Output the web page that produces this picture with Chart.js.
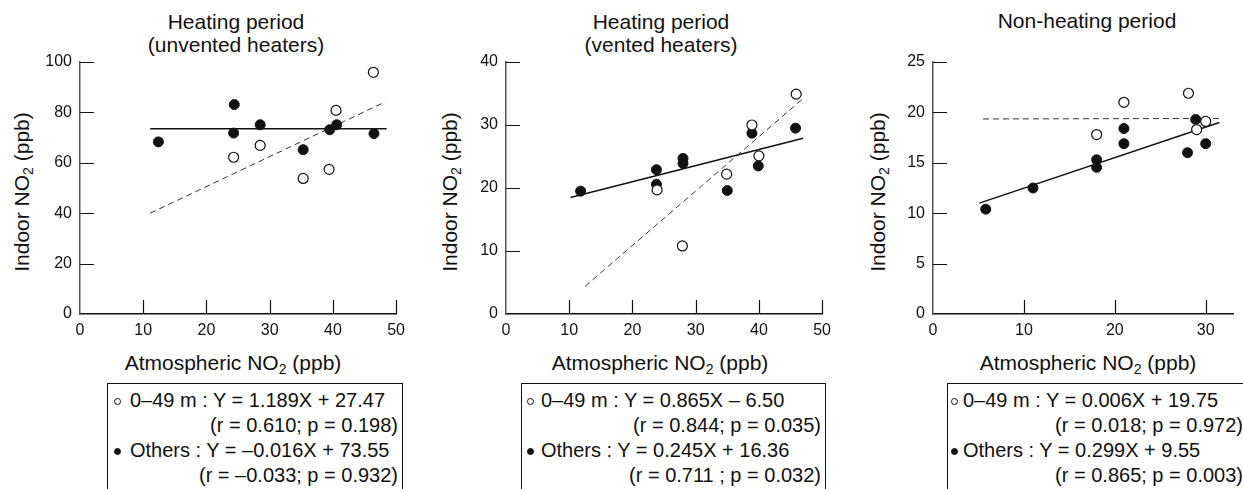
<!DOCTYPE html>
<html>
<head>
<meta charset="utf-8">
<script src="https://cdn.jsdelivr.net/npm/chart.js@4.4.1/dist/chart.umd.min.js"></script>
<style>
  body { margin: 0; width: 1243px; height: 489px; background: #fff; position: relative; overflow: hidden;
         font-family: "Liberation Sans", Arial, sans-serif; color: #111; }
  canvas { position: absolute; }
  .title { position: absolute; font-size: 21px; line-height: 23px; text-align: center; white-space: nowrap; transform: translateX(-50%); }
  .ytitle { position: absolute; font-size: 21px; line-height: 21px; white-space: nowrap; transform: translate(-50%, -50%) rotate(-90deg); }
  sub { font-size: 14px; line-height: 0; vertical-align: -4px; }
  .legend { position: absolute; top: 383px; height: 130px; border: 1px solid #111; box-sizing: border-box;
            font-size: 20px; line-height: 25px; white-space: nowrap; padding-top: 4px; }
  .legend .r { text-align: right; padding-right: 4px; }
  .dot { display: inline-block; width: 7px; height: 7px; border-radius: 50%; background: #111; border: 1px solid #111;
         box-sizing: border-box; vertical-align: 2px; }
  .dot.open { background: #fff; }
</style>
</head>
<body>
<div class="title" style="left:236px;top:10px">Heating period<br>(unvented heaters)</div>
<div class="title" style="left:661px;top:10px">Heating period<br>(vented heaters)</div>
<div class="title" style="left:1087px;top:9px">Non-heating period</div>

<div class="ytitle" style="left:21px;top:192px">Indoor NO<sub>2</sub> (ppb)</div>
<div class="ytitle" style="left:449px;top:192px">Indoor NO<sub>2</sub> (ppb)</div>
<div class="ytitle" style="left:877px;top:192px">Indoor NO<sub>2</sub> (ppb)</div>

<div class="title" style="left:233px;top:351px">Atmospheric NO<sub>2</sub> (ppb)</div>
<div class="title" style="left:660px;top:351px">Atmospheric NO<sub>2</sub> (ppb)</div>
<div class="title" style="left:1088px;top:351px">Atmospheric NO<sub>2</sub> (ppb)</div>

<canvas id="c1" width="372" height="304" style="left:40px;top:40px"></canvas>
<canvas id="c2" width="372" height="304" style="left:466px;top:40px"></canvas>
<canvas id="c3" width="350" height="304" style="left:893px;top:40px"></canvas>

<div class="legend" style="left:107px;width:296px">
  <div style="padding-left:6px"><span class="dot open" style="margin-right:9px"></span>0–49 m : Y = 1.189X + 27.47</div>
  <div class="r">(r = 0.610; p = 0.198)</div>
  <div style="padding-left:6px"><span class="dot" style="margin-right:9px"></span>Others : Y = –0.016X + 73.55</div>
  <div class="r">(r = –0.033; p = 0.932)</div>
</div>
<div class="legend" style="left:521px;width:305px">
  <div style="padding-left:5px"><span class="dot open" style="margin-right:7px"></span>0–49 m : Y = 0.865X – 6.50</div>
  <div class="r">(r = 0.844; p = 0.035)</div>
  <div style="padding-left:5px"><span class="dot" style="margin-right:7px"></span>Others : Y = 0.245X + 16.36</div>
  <div class="r">(r = 0.711 ; p = 0.032)</div>
</div>
<div class="legend" style="left:947px;width:301px">
  <div style="padding-left:3px"><span class="dot open" style="margin-right:5px"></span>0–49 m : Y = 0.006X + 19.75</div>
  <div class="r">(r = 0.018; p = 0.972)</div>
  <div style="padding-left:3px"><span class="dot" style="margin-right:5px"></span>Others : Y = 0.299X + 9.55</div>
  <div class="r">(r = 0.865; p = 0.003)</div>
</div>

<script>
// Panel 1: heating period, unvented heaters
const p1OpenX = [24.3, 28.5, 35.3, 39.4, 40.5, 46.4];
const p1OpenY = [62.2, 66.9, 53.8, 57.4, 80.8, 95.9];
const p1FillX = [12.4, 24.4, 24.3, 28.5, 35.3, 39.5, 40.6, 46.5];
const p1FillY = [68.3, 83.1, 71.8, 75.1, 65.2, 73.1, 75.1, 71.6];
const p1FitFillX = [11.1, 48.5];
const p1FitFillY = [73.5, 73.5];
const p1FitOpenX = [11.1, 48.3];
const p1FitOpenY = [40.0, 84.2];
const p1XTicks = [0, 10, 20, 30, 40, 50];
const p1YTicks = [0, 20, 40, 60, 80, 100];

// Panel 2: heating period, vented heaters
const p2OpenX = [23.9, 27.9, 34.9, 38.9, 40.0, 45.9];
const p2OpenY = [19.7, 10.8, 22.2, 30.0, 25.1, 34.9];
const p2FillX = [11.8, 23.8, 23.8, 28.0, 28.0, 35.0, 38.9, 39.9, 45.8];
const p2FillY = [19.5, 22.9, 20.6, 24.7, 23.9, 19.6, 28.7, 23.5, 29.5];
const p2FitFillX = [10.2, 47.0];
const p2FitFillY = [18.5, 27.9];
const p2FitOpenX = [12.5, 47.0];
const p2FitOpenY = [4.4, 34.2];
const p2XTicks = [0, 10, 20, 30, 40, 50];
const p2YTicks = [0, 10, 20, 30, 40];

// Panel 3: non-heating period
const p3OpenX = [18.0, 21.0, 28.1, 29.0, 30.0];
const p3OpenY = [17.8, 21.0, 21.9, 18.3, 19.1];
const p3FillX = [5.8, 11.0, 18.0, 18.0, 21.0, 21.0, 28.0, 28.9, 30.0];
const p3FillY = [10.4, 12.5, 15.3, 14.55, 18.4, 16.9, 16.0, 19.3, 16.9];
const p3FitFillX = [5.1, 31.5];
const p3FitFillY = [11.0, 19.0];
const p3FitOpenX = [5.5, 31.8];
const p3FitOpenY = [19.35, 19.4];
const p3XTicks = [0, 10, 20, 30];
const p3YTicks = [0, 5, 10, 15, 20, 25];

const FONT = "'Liberation Sans', Arial, sans-serif";
const INK = '#111';

function zip(xs, ys) {
  return xs.map((x, i) => ({ x: x, y: ys[i] }));
}

// short tick marks pointing into the plot
const innerTicks = {
  id: 'innerTicks',
  afterDraw(chart) {
    const { ctx, chartArea, scales } = chart;
    ctx.save();
    ctx.strokeStyle = INK;
    ctx.lineWidth = 1.2;
    ctx.beginPath();
    scales.y.ticks.forEach(t => {
      if (t.value === 0) return;
      const y = Math.round(scales.y.getPixelForValue(t.value)) + 0.5;
      ctx.moveTo(chartArea.left, y);
      ctx.lineTo(chartArea.left + 14, y);
    });
    scales.x.ticks.forEach(t => {
      if (t.value === 0) return;
      const x = Math.round(scales.x.getPixelForValue(t.value)) + 0.5;
      ctx.moveTo(x, chartArea.bottom);
      ctx.lineTo(x, chartArea.bottom - 14);
    });
    ctx.stroke();
    ctx.restore();
  }
};

function makePanel(id, p) {
  new Chart(document.getElementById(id), {
    type: 'scatter',
    data: {
      datasets: [
        { data: zip(p.openX, p.openY), pointRadius: 5, pointBackgroundColor: '#fff',
          pointBorderColor: INK, pointBorderWidth: 1.2 },
        { data: zip(p.fillX, p.fillY), pointRadius: 5, pointBackgroundColor: INK,
          pointBorderColor: INK, pointBorderWidth: 1 },
        { data: zip(p.fitFillX, p.fitFillY), showLine: true, pointRadius: 0,
          borderColor: INK, borderWidth: 1.5 },
        { data: zip(p.fitOpenX, p.fitOpenY), showLine: true, pointRadius: 0,
          borderColor: '#333', borderWidth: 1, borderDash: [6, 4] }
      ]
    },
    options: {
      responsive: false,
      animation: false,
      events: [],
      layout: { padding: { top: 22, right: p.padRight, bottom: 0, left: 0 } },
      plugins: { legend: { display: false }, tooltip: { enabled: false } },
      scales: {
        x: {
          type: 'linear', min: 0, max: p.xMax,
          grid: { display: false, drawTicks: false },
          border: { color: INK, width: 1.5 },
          ticks: { color: INK, font: { size: 16, family: FONT }, padding: 7, maxRotation: 0 },
          afterBuildTicks: s => { s.ticks = p.xTicks.map(v => ({ value: v })); },
          afterFit: s => { s.height = 30; }
        },
        y: {
          type: 'linear', min: 0, max: p.yTicks[p.yTicks.length - 1],
          grid: { display: false, drawTicks: false },
          border: { color: '#555', width: 1.5 },
          ticks: { color: INK, font: { size: 16, family: FONT }, padding: 8 },
          afterBuildTicks: s => { s.ticks = p.yTicks.map(v => ({ value: v })); },
          afterFit: s => { s.width = 40; }
        }
      }
    },
    plugins: [innerTicks]
  });
}

makePanel('c1', { openX: p1OpenX, openY: p1OpenY, fillX: p1FillX, fillY: p1FillY,
  fitFillX: p1FitFillX, fitFillY: p1FitFillY, fitOpenX: p1FitOpenX, fitOpenY: p1FitOpenY,
  xTicks: p1XTicks, yTicks: p1YTicks, xMax: 50, padRight: 14 });
makePanel('c2', { openX: p2OpenX, openY: p2OpenY, fillX: p2FillX, fillY: p2FillY,
  fitFillX: p2FitFillX, fitFillY: p2FitFillY, fitOpenX: p2FitOpenX, fitOpenY: p2FitOpenY,
  xTicks: p2XTicks, yTicks: p2YTicks, xMax: 50, padRight: 14 });
makePanel('c3', { openX: p3OpenX, openY: p3OpenY, fillX: p3FillX, fillY: p3FillY,
  fitFillX: p3FitFillX, fitFillY: p3FitFillY, fitOpenX: p3FitOpenX, fitOpenY: p3FitOpenY,
  xTicks: p3XTicks, yTicks: p3YTicks, xMax: 33, padRight: 10 });
</script>
</body>
</html>
